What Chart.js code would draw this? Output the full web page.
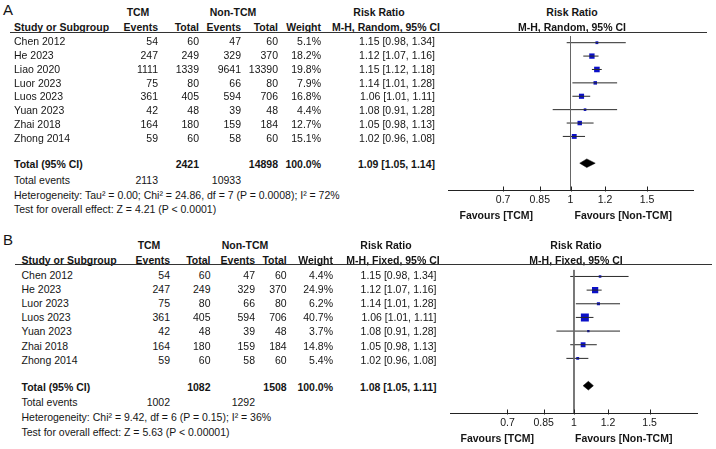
<!DOCTYPE html>
<html>
<head>
<meta charset="utf-8">
<script src="https://cdn.jsdelivr.net/npm/chart.js@4/dist/chart.umd.min.js"></script>
<style>
  html, body { margin: 0; padding: 0; background: #fff; }
  #page { position: relative; width: 716px; height: 449px; overflow: hidden;
          font-family: "Liberation Sans", Arial, sans-serif; color: #151515; }
  .t { position: absolute; font-size: 10.5px; line-height: 13px; white-space: nowrap; }
  .b { font-weight: bold; }
  .rule { position: absolute; height: 0; border-top: 1px solid #333; }
  canvas { position: absolute; }
</style>
</head>
<body>
<div id="page">
  <canvas id="plot-a" width="253" height="182" style="left:444px;top:32px"></canvas>
  <canvas id="plot-b" width="258" height="173" style="left:445px;top:264px"></canvas>
</div>
<script>
// ─── Data: panel A (random effects) ──────────────────────────────────────────
const studiesA   = ['Chen 2012', 'He 2023', 'Liao 2020', 'Luor 2023', 'Luos 2023', 'Yuan 2023', 'Zhai 2018', 'Zhong 2014'];
const tcmEventsA = [54, 247, 1111, 75, 361, 42, 164, 59];
const tcmTotalA  = [60, 249, 1339, 80, 405, 48, 180, 60];
const nonEventsA = [47, 329, 9641, 66, 594, 39, 159, 58];
const nonTotalA  = [60, 370, 13390, 80, 706, 48, 184, 60];
const weightA    = [5.1, 18.2, 19.8, 7.9, 16.8, 4.4, 12.7, 15.1];
const rrA        = [1.15, 1.12, 1.15, 1.14, 1.06, 1.08, 1.05, 1.02];
const loA        = [0.98, 1.07, 1.12, 1.01, 1.01, 0.91, 0.98, 0.96];
const hiA        = [1.34, 1.16, 1.18, 1.28, 1.11, 1.28, 1.13, 1.08];
const pooledA    = [1.09, 1.05, 1.14];          // estimate, lower, upper
const sumsA      = [2113, 2421, 10933, 14898];  // TCM events, TCM total, non-TCM events, non-TCM total
const hetA       = 'Heterogeneity: Tau² = 0.00; Chi² = 24.86, df = 7 (P = 0.0008); I² = 72%';
const testA      = 'Test for overall effect: Z = 4.21 (P < 0.0001)';

// ─── Data: panel B (fixed effect) ────────────────────────────────────────────
const studiesB   = ['Chen 2012', 'He 2023', 'Luor 2023', 'Luos 2023', 'Yuan 2023', 'Zhai 2018', 'Zhong 2014'];
const tcmEventsB = [54, 247, 75, 361, 42, 164, 59];
const tcmTotalB  = [60, 249, 80, 405, 48, 180, 60];
const nonEventsB = [47, 329, 66, 594, 39, 159, 58];
const nonTotalB  = [60, 370, 80, 706, 48, 184, 60];
const weightB    = [4.4, 24.9, 6.2, 40.7, 3.7, 14.8, 5.4];
const rrB        = [1.15, 1.12, 1.14, 1.06, 1.08, 1.05, 1.02];
const loB        = [0.98, 1.07, 1.01, 1.01, 0.91, 0.98, 0.96];
const hiB        = [1.34, 1.16, 1.28, 1.11, 1.28, 1.13, 1.08];
const pooledB    = [1.08, 1.05, 1.11];
const sumsB      = [1002, 1082, 1292, 1508];
const hetB       = 'Heterogeneity: Chi² = 9.42, df = 6 (P = 0.15); I² = 36%';
const testB      = 'Test for overall effect: Z = 5.63 (P < 0.00001)';

// ─── Axis ────────────────────────────────────────────────────────────────────
const tickValues = [0.7, 0.85, 1, 1.2, 1.5];
const tickLabels = ['0.7', '0.85', '1', '1.2', '1.5'];

const FONT = '"Liberation Sans", Arial, sans-serif';
const page = document.getElementById('page');

function put(text, x, y, align, bold, size) {
  const d = document.createElement('div');
  d.className = 't' + (bold ? ' b' : '');
  d.textContent = text;
  d.style.left = x + 'px';
  d.style.top = (y - 6.5) + 'px';
  if (size) { d.style.fontSize = size + 'px'; d.style.lineHeight = '16px'; d.style.top = (y - 8) + 'px'; }
  if (align === 'right') d.style.transform = 'translateX(-100%)';
  if (align === 'center') d.style.transform = 'translateX(-50%)';
  page.appendChild(d);
}

function rule(x1, x2, y) {
  const d = document.createElement('div');
  d.className = 'rule';
  d.style.left = x1 + 'px';
  d.style.width = (x2 - x1) + 'px';
  d.style.top = y + 'px';
  page.appendChild(d);
}

const ci = (r, l, h) => `${r.toFixed(2)} [${l.toFixed(2)}, ${h.toFixed(2)}]`;

// ─── Table text for one panel ────────────────────────────────────────────────
function drawTable(p) {
  put(p.letter, 3, p.yTitle, 'left', false, 15);
  put('TCM', p.cTcm, p.yGroup, 'center', true);
  put('Non-TCM', p.cNon, p.yGroup, 'center', true);
  put('Risk Ratio', p.cRR1, p.yGroup, 'center', true);
  put('Risk Ratio', p.cRR2, p.yGroup, 'center', true);

  put('Study or Subgroup', p.xName, p.yHead, 'left', true);
  put('Events', p.col[0], p.yHead, 'right', true);
  put('Total', p.col[1], p.yHead, 'right', true);
  put('Events', p.col[2], p.yHead, 'right', true);
  put('Total', p.col[3], p.yHead, 'right', true);
  put('Weight', p.col[4], p.yHead, 'right', true);
  put(p.method, p.cMH1, p.yHead, 'center', true);
  put(p.method, p.cRR2, p.yHead, 'center', true);
  rule(p.ruleX[0], p.ruleX[1], p.ruleY);

  p.studies.forEach((s, i) => {
    const y = p.yRow0 + i * p.rowStep;
    put(s, p.xName, y, 'left');
    put(String(p.te[i]), p.col[0], y, 'right');
    put(String(p.tt[i]), p.col[1], y, 'right');
    put(String(p.ne[i]), p.col[2], y, 'right');
    put(String(p.nt[i]), p.col[3], y, 'right');
    put(p.w[i].toFixed(1) + '%', p.col[4], y, 'right');
    put(ci(p.rr[i], p.lo[i], p.hi[i]), p.xCI, y, 'right');
  });

  put('Total (95% CI)', p.xName, p.yTotal, 'left', true);
  put(String(p.sums[1]), p.col[1], p.yTotal, 'right', true);
  put(String(p.sums[3]), p.col[3], p.yTotal, 'right', true);
  put('100.0%', p.col[4], p.yTotal, 'right', true);
  put(ci(p.pooled[0], p.pooled[1], p.pooled[2]), p.xCI, p.yTotal, 'right', true);

  put('Total events', p.xName, p.yEvents, 'left');
  put(String(p.sums[0]), p.col[0], p.yEvents, 'right');
  put(String(p.sums[2]), p.col[2], p.yEvents, 'right');
  put(p.het, p.xName, p.yEvents + 15, 'left');
  put(p.test, p.xName, p.yEvents + 29.3, 'left');

  put('Favours [TCM]', p.favL, p.yFav, 'right', true);
  put('Favours [Non-TCM]', p.favR, p.yFav, 'left', true);
}

// ─── Forest plot for one panel ───────────────────────────────────────────────
const inwardTicks = {
  id: 'inwardTicks',
  afterDatasetsDraw(chart) {
    const s = chart.scales.x, ctx = chart.ctx, yb = Math.round(chart.chartArea.bottom) + 0.5;
    ctx.save();
    ctx.strokeStyle = '#222';
    ctx.lineWidth = 1;
    s.ticks.forEach(t => {
      const x = Math.round(s.getPixelForValue(t.value)) + 0.5;
      ctx.beginPath();
      ctx.moveTo(x, yb - 4);
      ctx.lineTo(x, yb + 1);
      ctx.stroke();
    });
    ctx.restore();
  }
};

function drawForest(id, p) {
  const n = p.rr.length;
  const totalRow = n + 1;
  const dh = 0.32;
  const datasets = [];

  // line of no effect
  datasets.push({
    type: 'line', data: [{ x: 1, y: -0.5 }, { x: 1, y: p.yMax }],
    borderColor: '#666', borderWidth: 1, pointRadius: 0
  });
  // confidence intervals
  for (let i = 0; i < n; i++) {
    datasets.push({
      type: 'line', data: [{ x: p.lo[i], y: i }, { x: p.hi[i], y: i }],
      borderColor: '#2a2a2a', borderWidth: 1, pointRadius: 0
    });
  }
  // study weights as squares
  datasets.push({
    type: 'scatter',
    data: p.rr.map((r, i) => ({ x: r, y: i })),
    pointStyle: 'rect',
    pointRadius: p.w.map(w => Math.max(2, 1.25 * Math.sqrt(w)) / 1.414),
    backgroundColor: '#0b10c8', borderWidth: 0
  });
  // pooled diamond (upper and lower halves, filled between)
  datasets.push({
    type: 'line',
    data: [{ x: p.pooled[1], y: totalRow }, { x: p.pooled[0], y: totalRow - dh }, { x: p.pooled[2], y: totalRow }],
    borderColor: '#000', borderWidth: 0.5, pointRadius: 0, fill: false
  });
  datasets.push({
    type: 'line',
    data: [{ x: p.pooled[1], y: totalRow }, { x: p.pooled[0], y: totalRow + dh }, { x: p.pooled[2], y: totalRow }],
    borderColor: '#000', borderWidth: 0.5, pointRadius: 0, fill: '-1', backgroundColor: '#000'
  });

  return new Chart(document.getElementById(id), {
    type: 'scatter',
    data: { datasets },
    options: {
      responsive: false, animation: false, events: [],
      layout: { padding: 0 },
      plugins: { legend: { display: false }, tooltip: { enabled: false } },
      elements: { line: { tension: 0 } },
      scales: {
        x: {
          type: 'logarithmic', min: p.xMin, max: p.xMax, position: 'bottom',
          afterBuildTicks: s => { s.ticks = tickValues.map(v => ({ value: v })); },
          afterFit: s => { s.height = p.axisH; },
          grid: { drawOnChartArea: false, drawTicks: false },
          border: { color: '#222', width: 1 },
          ticks: {
            autoSkip: false, maxRotation: 0, padding: 4, color: '#151515',
            font: { family: FONT, size: 10.5 },
            callback: (v, i) => tickLabels[i]
          }
        },
        y: { type: 'linear', reverse: true, min: -0.5, max: p.yMax, display: false }
      }
    },
    plugins: [inwardTicks]
  });
}

const panelA = {
  letter: 'A', yTitle: 10, yGroup: 12, yHead: 27, ruleY: 32, ruleX: [10, 707],
  cTcm: 138, cNon: 233, cRR1: 379, cMH1: 386, cRR2: 572,
  xName: 14, col: [158, 199, 241, 278, 321], xCI: 435,
  method: 'M-H, Random, 95% CI',
  yRow0: 41.8, rowStep: 13.75, yTotal: 164.6, yEvents: 180.3, yFav: 215,
  favL: 533, favR: 574.5,
  studies: studiesA, te: tcmEventsA, tt: tcmTotalA, ne: nonEventsA, nt: nonTotalA,
  w: weightA, rr: rrA, lo: loA, hi: hiA, pooled: pooledA, sums: sumsA, het: hetA, test: testA,
  xMin: 0.5227, xMax: 1.913, yMax: 11, axisH: 24
};

const panelB = {
  letter: 'B', yTitle: 240, yGroup: 245, yHead: 260, ruleY: 264, ruleX: [15, 712],
  cTcm: 149, cNon: 245, cRR1: 386, cMH1: 393, cRR2: 576,
  xName: 21.5, col: [170, 210.5, 255, 286.7, 333], xCI: 436.5,
  method: 'M-H, Fixed, 95% CI',
  yRow0: 275, rowStep: 14.2, yTotal: 387.3, yEvents: 402.7, yFav: 438.3,
  favL: 534, favR: 575,
  studies: studiesB, te: tcmEventsB, tt: tcmTotalB, ne: nonEventsB, nt: nonTotalB,
  w: weightB, rr: rrB, lo: loB, hi: hiB, pooled: pooledB, sums: sumsB, het: hetB, test: testB,
  xMin: 0.516, xMax: 1.938, yMax: 10, axisH: 24
};

drawTable(panelA);
drawTable(panelB);
drawForest('plot-a', panelA);
drawForest('plot-b', panelB);
</script>
</body>
</html>
